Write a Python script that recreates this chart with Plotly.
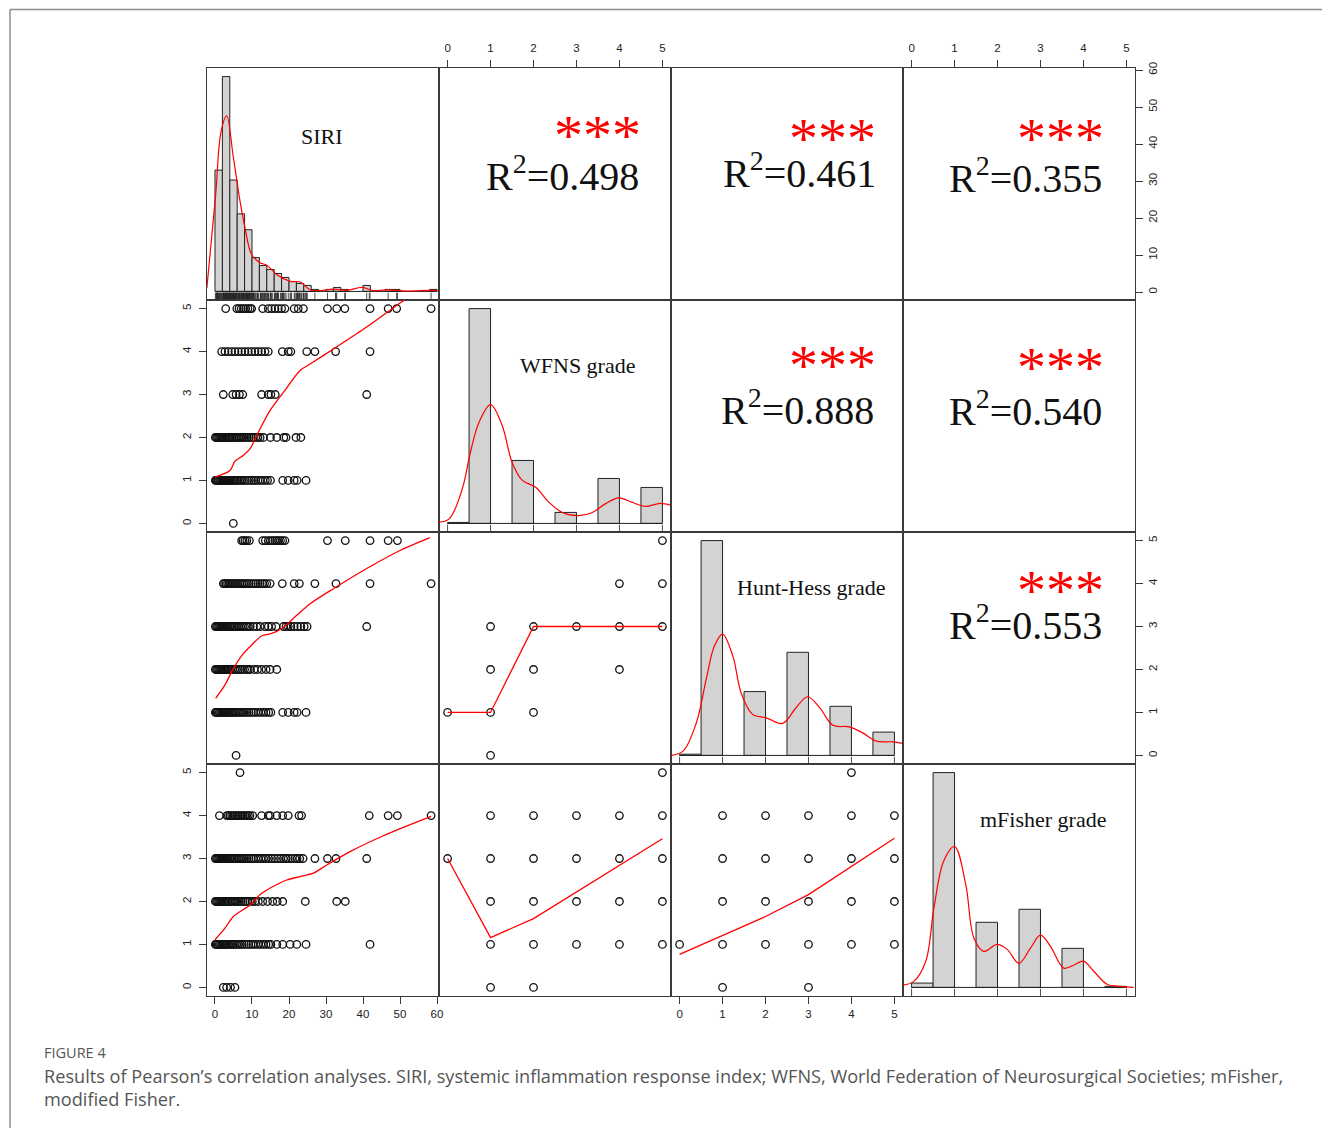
import plotly.graph_objects as go

# ---------------------------------------------------------------- data ----
var_names = ["SIRI", "WFNS grade", "Hunt-Hess grade", "mFisher grade"]

# SIRI histogram (bins of width 2 from 0 to 60)
siri_breaks = list(range(0, 62, 2))
siri_counts = [61, 108, 56, 39, 31, 17, 13, 11, 9, 7, 5, 4, 3, 1, 0,
               1, 2, 1, 0, 0, 3, 0, 0, 1, 1, 0, 0, 0, 0, 1]

# grade histograms (bins of width 0.5 from 0 to 5)
grade_breaks = [0, 0.5, 1, 1.5, 2, 2.5, 3, 3.5, 4, 4.5, 5]
wfns_counts = [1, 215, 0, 63, 0, 11, 0, 45, 0, 36]
hh_counts = [1, 175, 0, 52, 0, 84, 0, 40, 0, 19]
mfisher_counts = [4, 198, 0, 60, 0, 72, 0, 36, 0, 1]

# kernel density curves (height relative to the tallest bar)
siri_dens_x = [-2.2, 0.2, 1.6, 3.15, 4.95, 6.76, 8.1, 9.9, 12.2, 14.0, 16.7, 20.3,
               23.0, 25.7, 28.5, 32.0, 35.6, 39.8, 42.7, 46.4, 52.0, 58.9, 62.0]
siri_dens_y = [0.015, 0.454, 0.74, 0.817, 0.626, 0.42, 0.297, 0.172, 0.133, 0.122,
               0.078, 0.047, 0.044, 0.008, 0.004, 0.011, 0.005, 0.019, 0.004,
               0.007, 0.002, 0.005, 0.0]
wfns_dens_x = [-0.28, 0.03, 0.34, 0.53, 0.73, 1.0, 1.27, 1.5, 1.74, 2.05, 2.36, 2.67,
               3.05, 3.37, 3.67, 3.98, 4.3, 4.6, 4.95, 5.22]
wfns_dens_y = [0.005, 0.02, 0.16, 0.33, 0.47, 0.553, 0.456, 0.285, 0.2, 0.168, 0.098,
               0.051, 0.036, 0.051, 0.091, 0.119, 0.098, 0.079, 0.093, 0.083]
hh_dens_x = [-0.23, 0.08, 0.39, 0.62, 0.81, 1.0, 1.24, 1.43, 1.7, 2.02, 2.4, 2.71,
             2.98, 3.26, 3.57, 3.95, 4.26, 4.57, 4.96, 5.19]
hh_dens_y = [0.0, 0.02, 0.152, 0.355, 0.509, 0.565, 0.462, 0.292, 0.191, 0.175, 0.149,
             0.222, 0.273, 0.222, 0.14, 0.133, 0.105, 0.067, 0.063, 0.056]
mfisher_dens_x = [-0.26, 0.05, 0.33, 0.52, 0.75, 1.0, 1.26, 1.45, 1.68, 1.99, 2.23,
                  2.5, 2.77, 3.0, 3.23, 3.54, 3.77, 4.0, 4.24, 4.55, 4.86, 5.17]
mfisher_dens_y = [0.009, 0.028, 0.122, 0.37, 0.59, 0.656, 0.48, 0.23, 0.168, 0.2, 0.176,
                  0.112, 0.184, 0.243, 0.192, 0.09, 0.103, 0.122, 0.075, 0.015, 0.005, 0.0]

# SIRI values observed at each WFNS grade
wfns_siri = {
    0: [4.95],
    1: [0.1, 0.3, 0.5, 0.8, 1.0, 1.3, 1.5, 1.8, 2.1, 2.4, 2.6, 2.9, 3.2, 3.5, 3.8, 4.1,
        4.4, 4.8, 5.1, 5.5, 5.9, 6.3, 6.8, 7.2, 7.7, 8.2, 8.8, 9.3, 9.9, 10.5, 11.0,
        11.6, 12.3, 12.9, 13.6, 14.2, 15.0, 18.3, 19.8, 21.4, 22.2, 24.6],
    2: [0.1, 0.4, 0.7, 1.0, 1.3, 1.6, 1.9, 2.2, 2.6, 3.0, 3.4, 3.8, 4.2, 4.6, 5.0, 5.5,
        6.0, 6.5, 7.0, 7.5, 8.0, 8.6, 9.2, 9.8, 10.4, 11.0, 11.6, 12.2, 13.1, 15.0,
        16.7, 18.6, 19.2, 21.9, 23.2],
    3: [2.25, 4.8, 5.7, 6.6, 7.5, 12.6, 14.4, 15.1, 16.3, 41.0],
    4: [1.8, 2.7, 3.6, 4.5, 5.4, 6.3, 7.2, 8.1, 9.0, 9.9, 10.8, 11.7, 12.6, 13.5, 14.4,
        18.2, 19.8, 20.5, 24.8, 27.0, 32.6, 41.9],
    5: [2.9, 5.9, 6.5, 7.1, 7.7, 8.3, 8.9, 9.5, 9.9, 12.9, 14.4, 15.3, 16.2, 17.1, 18.0,
        18.9, 21.4, 22.5, 23.9, 30.4, 32.9, 35.1, 41.9, 46.8, 49.1, 58.4],
}
# SIRI values observed at each Hunt-Hess grade
hh_siri = {
    0: [5.7],
    1: [0.1, 0.3, 0.6, 0.9, 1.2, 1.5, 1.8, 2.1, 2.4, 2.7, 3.0, 3.3, 3.6, 4.0, 4.4, 4.8,
        5.2, 5.6, 6.0, 6.5, 7.0, 7.5, 8.0, 8.6, 9.2, 9.8, 10.4, 11.0, 11.7, 12.4, 13.1,
        13.8, 14.5, 15.1, 18.3, 19.8, 21.4, 22.2, 24.6],
    2: [0.1, 0.4, 0.7, 1.0, 1.3, 1.6, 1.9, 2.3, 2.7, 3.1, 3.5, 3.9, 4.3, 4.8, 5.3, 5.8,
        6.3, 6.8, 7.4, 8.0, 8.6, 9.0, 9.5, 10.6, 11.5, 12.6, 13.8, 14.9, 16.7],
    3: [0.1, 0.4, 0.7, 1.0, 1.3, 1.6, 1.9, 2.2, 2.5, 2.8, 3.1, 3.5, 3.9, 4.3, 4.7, 5.1,
        5.5, 6.0, 6.5, 7.0, 7.5, 8.0, 8.5, 9.0, 9.5, 10.4, 11.3, 12.2, 13.5, 14.4, 15.3,
        16.5, 18.5, 19.2, 19.8, 20.5, 21.4, 22.3, 23.2, 24.1, 24.9, 41.0],
    4: [2.25, 2.6, 3.0, 3.4, 3.8, 4.2, 4.6, 5.0, 5.4, 5.8, 6.2, 6.7, 7.2, 7.7, 8.2, 8.7,
        9.2, 9.8, 10.4, 11.0, 11.6, 12.2, 12.8, 13.4, 14.0, 14.9, 18.2, 21.4, 22.8,
        27.0, 32.7, 41.9, 58.4],
    5: [7.2, 7.6, 8.1, 8.6, 9.3, 12.9, 13.6, 14.4, 15.0, 15.6, 16.2, 16.7, 17.2, 17.7,
        18.3, 18.9, 30.4, 35.2, 41.9, 46.8, 49.3],
}
# SIRI values observed at each mFisher grade
mfisher_siri = {
    0: [2.25, 3.15, 4.2, 5.4],
    1: [0.1, 0.3, 0.6, 0.9, 1.2, 1.5, 1.8, 2.1, 2.4, 2.7, 3.0, 3.3, 3.7, 4.1, 4.5, 4.9,
        5.3, 5.8, 6.3, 6.8, 7.3, 7.9, 8.5, 9.1, 9.7, 10.3, 11.0, 11.7, 12.4, 13.1, 13.8,
        14.5, 15.1, 16.7, 18.3, 20.3, 22.1, 24.6, 41.9],
    2: [0.1, 0.4, 0.7, 1.0, 1.3, 1.6, 1.9, 2.3, 2.7, 3.1, 3.5, 3.9, 4.4, 4.9, 5.4, 5.9,
        6.4, 7.0, 7.6, 8.2, 8.8, 9.4, 10.1, 10.8, 11.7, 12.9, 14.2, 15.6, 16.8, 18.3,
        24.4, 32.9, 35.2],
    3: [0.1, 0.4, 0.7, 1.0, 1.3, 1.6, 1.9, 2.2, 2.5, 2.8, 3.1, 3.5, 3.9, 4.3, 4.7, 5.1,
        5.5, 6.0, 6.5, 7.0, 7.5, 8.0, 8.6, 9.2, 9.8, 10.4, 11.0, 11.7, 12.4, 13.1, 13.8,
        14.5, 15.3, 16.1, 16.9, 17.7, 18.5, 19.2, 19.8, 20.7, 21.6, 22.2, 22.9, 23.8,
        27.0, 30.4, 32.7, 41.0],
    4: [1.2, 3.2, 3.6, 4.05, 4.5, 4.95, 5.4, 5.85, 6.3, 6.76, 7.2, 7.66, 8.1, 8.56, 9.0,
        9.46, 10.2, 12.6, 14.4, 14.9, 16.7, 18.3, 19.8, 22.7, 23.4, 41.7, 46.8, 49.3,
        58.4],
    5: [6.76],
}

# smoothed (loess) fits against SIRI
fit_wfns_siri_x = [0.0, 4.05, 5.4, 7.6, 9.5, 11.7, 14.9, 18.5, 23.0, 25.7, 32.0, 41.0, 50.5, 58.4]
fit_wfns_siri_y = [1.08, 1.23, 1.45, 1.58, 1.74, 2.12, 2.63, 3.05, 3.56, 3.71, 4.06, 4.57, 5.16, 5.62]
fit_hh_siri_x = [0.2, 2.7, 4.95, 7.65, 9.9, 12.6, 15.3, 18.0, 22.1, 25.7, 32.0, 41.0, 50.0, 58.1]
fit_hh_siri_y = [1.33, 1.64, 2.02, 2.37, 2.57, 2.78, 2.84, 2.95, 3.26, 3.53, 3.88, 4.35, 4.77, 5.07]
fit_mf_siri_x = [0.0, 2.7, 4.95, 9.5, 12.2, 15.3, 19.4, 23.0, 26.6, 30.2, 36.5, 45.5, 58.4]
fit_mf_siri_y = [1.11, 1.38, 1.65, 1.92, 2.16, 2.33, 2.50, 2.58, 2.66, 2.85, 3.16, 3.53, 3.98]

# grade vs grade scatter (unique combinations) and fits
hh_wfns_pts_x = [0, 1, 1, 1, 1, 2, 2, 2, 3, 4, 4, 4, 5, 5, 5]
hh_wfns_pts_y = [1, 0, 1, 2, 3, 1, 2, 3, 3, 2, 3, 4, 3, 4, 5]
fit_hh_wfns_x = [0, 1, 2, 3, 4, 5]
fit_hh_wfns_y = [1, 1, 3, 3, 3, 3]

mf_wfns_pts_x = [0, 1, 1, 1, 1, 1, 2, 2, 2, 2, 2, 3, 3, 3, 3, 4, 4, 4, 4, 5, 5, 5, 5, 5]
mf_wfns_pts_y = [3, 0, 1, 2, 3, 4, 0, 1, 2, 3, 4, 1, 2, 3, 4, 1, 2, 3, 4, 1, 2, 3, 4, 5]
fit_mf_wfns_x = [0, 1, 2, 3, 4, 5]
fit_mf_wfns_y = [3.0, 1.16, 1.6, 2.22, 2.84, 3.46]

mf_hh_pts_x = [0, 1, 1, 1, 1, 1, 2, 2, 2, 2, 3, 3, 3, 3, 3, 4, 4, 4, 4, 4, 5, 5, 5, 5]
mf_hh_pts_y = [1, 0, 1, 2, 3, 4, 1, 2, 3, 4, 0, 1, 2, 3, 4, 1, 2, 3, 4, 5, 1, 2, 3, 4]
fit_mf_hh_x = [0, 1, 2, 3, 4, 5]
fit_mf_hh_y = [0.77, 1.21, 1.65, 2.16, 2.81, 3.47]

# upper panels: (row, col) -> significance stars and R squared
corr_cells = [(1, 2), (1, 3), (1, 4), (2, 3), (2, 4), (3, 4)]
corr_stars = ["***", "***", "***", "***", "***", "***"]
corr_r2 = ["0.498", "0.461", "0.355", "0.888", "0.540", "0.553"]

# axis ticks
siri_ticks = [0, 10, 20, 30, 40, 50, 60]
grade_ticks = [0, 1, 2, 3, 4, 5]

caption_title = "FIGURE 4"
caption_lines = [
    "Results of Pearson\u2019s correlation analyses. SIRI, systemic inflammation response index; "
    "WFNS, World Federation of Neurosurgical Societies; mFisher,",
    "modified Fisher.",
]

# ------------------------------------------------------------- styling ----
W, H = 1322, 1128
ML, MR, MT, MB = 207, 187, 68, 132
SIRI_RANGE = [-2.16, 60.54]
GRADE_RANGE = [-0.2, 5.2]
HIST_RANGE = [-0.04, 1.04]
BOX = "#3a3a3a"
TICKFONT = dict(family="Liberation Sans, Arial, sans-serif", size=11.5, color="#222")
SERIF = "Liberation Serif, Times New Roman, serif"

var_ranges = [SIRI_RANGE, GRADE_RANGE, GRADE_RANGE, GRADE_RANGE]


def pid(r, c):
    return (r - 1) * 4 + c


def sfx(k):
    return "" if k == 1 else str(k)


fig = go.Figure()


def add(trace, r, c):
    k = pid(r, c)
    trace.update(xaxis="x" + sfx(k), yaxis="y" + sfx(k), showlegend=False, hoverinfo="skip")
    fig.add_trace(trace)


# ---- diagonal: histograms, density curves, rugs
def hist_panel(i, breaks, counts, dens_x, dens_y, rug_vals):
    top = max(counts)
    centers, widths, heights = [], [], []
    for lo, hi, n in zip(breaks[:-1], breaks[1:], counts):
        if n > 0:
            centers.append((lo + hi) / 2)
            widths.append(hi - lo)
            heights.append(n / top)
    add(go.Bar(x=centers, y=heights, width=widths,
               marker=dict(color="#d3d3d3", line=dict(color="#222", width=1))), i, i)
    add(go.Scatter(x=[breaks[0], breaks[-1]], y=[0, 0], mode="lines",
                   line=dict(color="#222", width=1)), i, i)
    add(go.Scatter(x=dens_x, y=dens_y, mode="lines",
                   line=dict(color="#ff0000", width=1.2, shape="spline", smoothing=1.0)), i, i)
    rx, ry = [], []
    for v in rug_vals:
        rx += [v, v, None]
        ry += [-0.04, -0.006, None]
    add(go.Scatter(x=rx, y=ry, mode="lines", line=dict(color="#222", width=0.8)), i, i)


siri_all = sorted({v for d in (wfns_siri, hh_siri, mfisher_siri) for vals in d.values() for v in vals})
hist_panel(1, siri_breaks, siri_counts, siri_dens_x, siri_dens_y, siri_all)
hist_panel(2, grade_breaks, wfns_counts, wfns_dens_x, wfns_dens_y, grade_ticks)
hist_panel(3, grade_breaks, hh_counts, hh_dens_x, hh_dens_y, grade_ticks)
hist_panel(4, grade_breaks, mfisher_counts, mfisher_dens_x, mfisher_dens_y, grade_ticks)

# ---- lower panels: scatter plus smoother
MARK = dict(symbol="circle-open", size=7.5, color="#111", line=dict(width=1.3))
RED = dict(color="#ff0000", width=1.3)


def grade_scatter(d, r):
    xs, ys = [], []
    for g, vals in d.items():
        xs += vals
        ys += [g] * len(vals)
    add(go.Scatter(x=xs, y=ys, mode="markers", marker=MARK), r, 1)


grade_scatter(wfns_siri, 2)
grade_scatter(hh_siri, 3)
grade_scatter(mfisher_siri, 4)
add(go.Scatter(x=fit_wfns_siri_x, y=fit_wfns_siri_y, mode="lines",
               line=dict(**RED, shape="spline", smoothing=0.8)), 2, 1)
add(go.Scatter(x=fit_hh_siri_x, y=fit_hh_siri_y, mode="lines",
               line=dict(**RED, shape="spline", smoothing=0.8)), 3, 1)
add(go.Scatter(x=fit_mf_siri_x, y=fit_mf_siri_y, mode="lines",
               line=dict(**RED, shape="spline", smoothing=0.8)), 4, 1)

add(go.Scatter(x=hh_wfns_pts_x, y=hh_wfns_pts_y, mode="markers", marker=MARK), 3, 2)
add(go.Scatter(x=fit_hh_wfns_x, y=fit_hh_wfns_y, mode="lines", line=RED), 3, 2)
add(go.Scatter(x=mf_wfns_pts_x, y=mf_wfns_pts_y, mode="markers", marker=MARK), 4, 2)
add(go.Scatter(x=fit_mf_wfns_x, y=fit_mf_wfns_y, mode="lines", line=RED), 4, 2)
add(go.Scatter(x=mf_hh_pts_x, y=mf_hh_pts_y, mode="markers", marker=MARK), 4, 3)
add(go.Scatter(x=fit_mf_hh_x, y=fit_mf_hh_y, mode="lines", line=RED), 4, 3)

# ---- upper panels hold only text; an empty trace keeps their frame and axes
for (r, c) in corr_cells:
    add(go.Scatter(x=[None], y=[None], mode="markers"), r, c)

# ---- axes
layout = {}
for r in range(1, 5):
    for c in range(1, 5):
        k = pid(r, c)
        base = dict(showline=True, mirror=True, linecolor=BOX, linewidth=1.3,
                    showgrid=False, zeroline=False, ticks="", showticklabels=False,
                    fixedrange=True, tickfont=TICKFONT, ticklen=7, tickwidth=1,
                    tickcolor=BOX)
        layout["xaxis" + sfx(k)] = dict(base, domain=[(c - 1) / 4, c / 4],
                                        anchor="y" + sfx(k), range=var_ranges[c - 1])
        layout["yaxis" + sfx(k)] = dict(base, domain=[1 - r / 4, 1 - (r - 1) / 4],
                                        anchor="x" + sfx(k),
                                        range=HIST_RANGE if r == c else var_ranges[r - 1])

shown = dict(ticks="outside", showticklabels=True)
layout["xaxis13"].update(shown, tickvals=siri_ticks, side="bottom")
layout["xaxis15"].update(shown, tickvals=grade_ticks, side="bottom")
layout["xaxis2"].update(shown, tickvals=grade_ticks, side="top", ticklabelstandoff=3)
layout["xaxis4"].update(shown, tickvals=grade_ticks, side="top", ticklabelstandoff=3)
layout["yaxis4"].update(shown, tickvals=siri_ticks, side="right", tickangle=-90)
layout["yaxis12"].update(shown, tickvals=grade_ticks, side="right", tickangle=-90)
layout["yaxis5"].update(shown, tickvals=grade_ticks, side="left", tickangle=-90, ticklabelstandoff=3)
layout["yaxis13"].update(shown, tickvals=grade_ticks, side="left", tickangle=-90, ticklabelstandoff=3)

# ---- text
annotations = []
label_pos = [(0.496, 0.703), (0.595, 0.716), (0.603, 0.759), (0.603, 0.759)]
for i, name in enumerate(var_names, start=1):
    k = pid(i, i)
    lx, ly = label_pos[i - 1]
    annotations.append(dict(text=name, xref="x%s domain" % sfx(k), yref="y%s domain" % sfx(k),
                            x=lx, y=ly, showarrow=False, xanchor="center", yanchor="middle",
                            font=dict(family=SERIF, size=22, color="#111")))

star_pos = [(0.685, 0.708), (0.698, 0.695), (0.677, 0.695), (0.694, 0.717), (0.677, 0.708), (0.677, 0.747)]
r2_pos = [(0.534, 0.545), (0.556, 0.558), (0.526, 0.536), (0.547, 0.536), (0.526, 0.532), (0.526, 0.609)]
for (r, c), st, r2, sp, rp in zip(corr_cells, corr_stars, corr_r2, star_pos, r2_pos):
    k = pid(r, c)
    ref = dict(xref="x%s domain" % sfx(k), yref="y%s domain" % sfx(k), showarrow=False,
               xanchor="center", yanchor="middle")
    annotations.append(dict(ref, text=st, x=sp[0], y=sp[1],
                            font=dict(family=SERIF, size=58, color="#ff0000")))
    annotations.append(dict(ref, text="R<sup>2</sup>=" + r2, x=rp[0], y=rp[1],
                            font=dict(family=SERIF, size=40, color="#111")))

PW = 928.0


def px_x(x):
    return (x - ML) / PW


def px_y(y):
    return (H - MB - y) / PW


annotations.append(dict(text=caption_title, xref="paper", yref="paper", x=px_x(42), y=px_y(1052),
                        xanchor="left", yanchor="middle", showarrow=False,
                        font=dict(family="Open Sans, sans-serif", size=14.5, color="#555")))
for yy, line in zip([1076, 1099], caption_lines):
    annotations.append(dict(text=line, xref="paper", yref="paper", x=px_x(42), y=px_y(yy),
                            xanchor="left", yanchor="middle", showarrow=False,
                            font=dict(family="Open Sans, sans-serif", size=18.15, color="#555")))

# card frame around the figure
shapes = [
    dict(type="line", xref="paper", yref="paper", x0=px_x(10), x1=px_x(1322),
         y0=px_y(9.5), y1=px_y(9.5), line=dict(color="#8c8c8c", width=1.5)),
    dict(type="line", xref="paper", yref="paper", x0=px_x(10), x1=px_x(10),
         y0=px_y(9.5), y1=px_y(1128), line=dict(color="#8c8c8c", width=1.5)),
]

fig.update_layout(**layout)
fig.update_layout(width=W, height=H, margin=dict(l=ML, r=MR, t=MT, b=MB, pad=0),
                  paper_bgcolor="white", plot_bgcolor="white", showlegend=False,
                  annotations=annotations, shapes=shapes, barmode="overlay")

fig.write_html("out.html")
